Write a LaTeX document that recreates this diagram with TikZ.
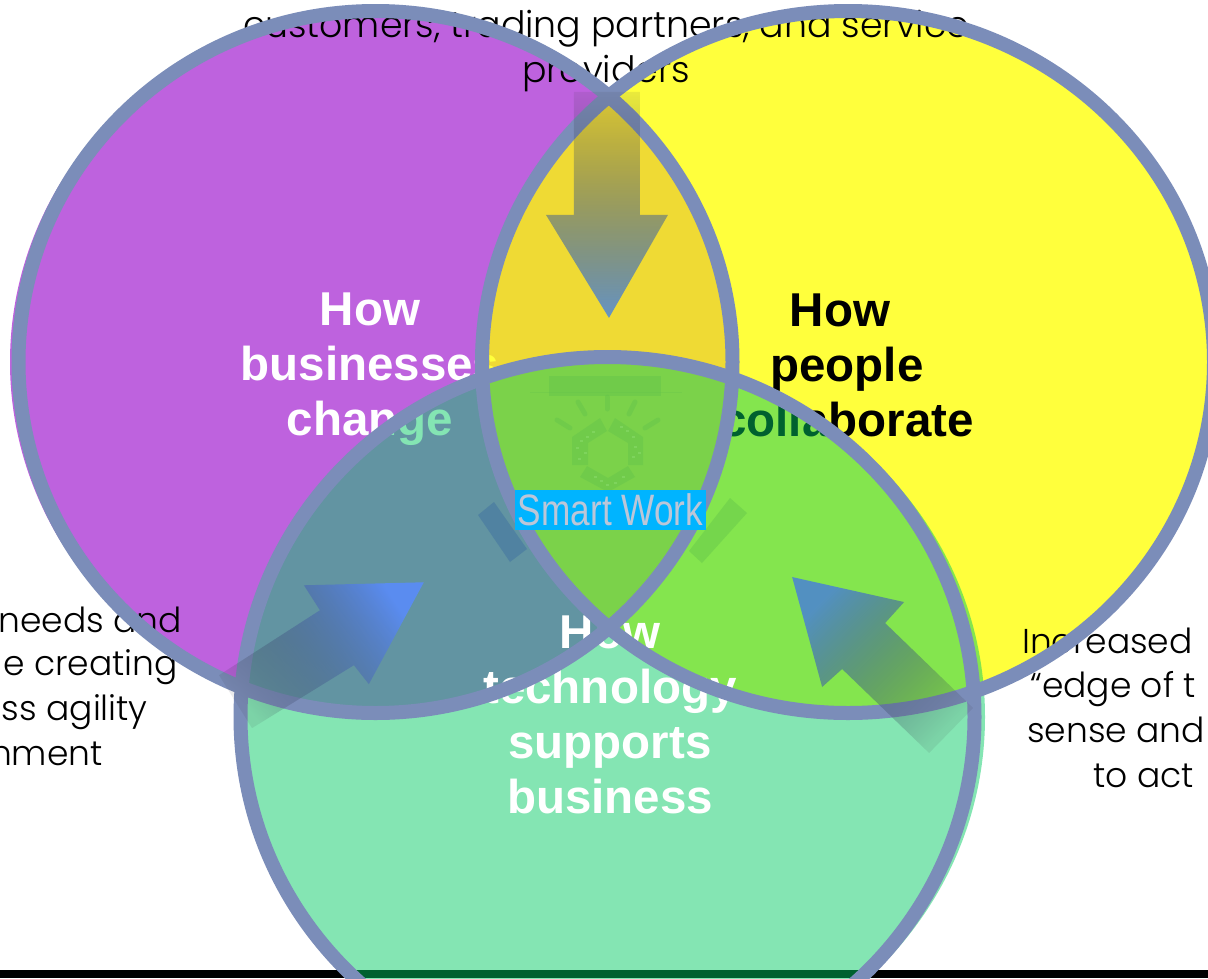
\documentclass[tikz,border=0pt]{standalone}
\usepackage{fontspec}
\usetikzlibrary{fadings}
\setmainfont{Liberation Sans}
\newfontfamily\gothic{Poppins Light}
\definecolor{ringc}{RGB}{123,141,185}
\definecolor{purplec}{RGB}{190,98,222}
\definecolor{yellowc}{RGB}{255,255,0}
\definecolor{greenc}{RGB}{0,203,99}
\definecolor{boxc}{RGB}{0,180,255}
\definecolor{smartc}{RGB}{188,198,216}
\definecolor{logoc}{RGB}{100,196,74}
\definecolor{logolite}{RGB}{140,222,110}
\definecolor{tailc}{RGB}{55,55,65}
\definecolor{tipa}{RGB}{95,145,205}
\definecolor{tipb}{RGB}{90,140,245}
\definecolor{tipc}{RGB}{80,140,200}
\definecolor{barc}{RGB}{60,110,160}
\tikzfading[name=arrowfade, left color=transparent!90, right color=transparent!5]
\tikzset{
  ring/.style={draw=ringc,line width=14pt},
  boldlabel/.style={font=\fontsize{47.5}{55}\selectfont\bfseries,align=center,inner sep=0pt},
  thinlabel/.style={font=\gothic\fontsize{34.5}{45}\selectfont,inner sep=0pt,text=black},
  toplabel/.style={font=\gothic\fontsize{36.3}{45}\selectfont,inner sep=0pt,text=black},
  logomark/.style={fill=logoc,opacity=.45},
  logoray/.style={draw=logoc,line width=5pt,line cap=round,opacity=.45},
  logodot/.style={fill=logolite,opacity=.5},
  arrowshade/.style={left color=tailc,right color=#1,path fading=arrowfade}
}
\begin{document}
\begin{tikzpicture}[x=1pt,y=-1pt]
\useasboundingbox (0,0) rectangle (1208,978);
\clip (0,0) rectangle (1208,978);
\fill[white] (0,0) rectangle (1208,978);
\fill[black] (0,970) rectangle (1208,978);
% left circle
\fill[purplec] (374,362) ellipse [x radius=364,y radius=352];
\node[boldlabel,text=white] (hb) at (370,369) {How\\businesses\\change};
% right circle
\fill[yellowc,fill opacity=.765] (848,362) ellipse [x radius=366,y radius=351];
\node[boldlabel,text=black,anchor=base] (hp1) at (840,326) {How};
\node[boldlabel,text=black,anchor=base] (hp2) at (847,381) {people};
\node[boldlabel,text=black,anchor=base] (hp3) at (847,436) {collaborate};
% outer texts
\node[toplabel,align=center] (top) at (606,51) {customers, trading partners, and service\\providers};
\node[thinlabel,anchor=base east] (l1) at (182,632) {needs and};
\node[thinlabel,anchor=base east] (l2) at (178,675) {e creating};
\node[thinlabel,anchor=base east] (l3) at (148,720) {ss agility};
\node[thinlabel,anchor=base east] (l4) at (103,765) {nment};
\node[thinlabel,anchor=base west] (r1) at (1022,653) {Increased};
\node[thinlabel,anchor=base west] (r2) at (1030,697) {“edge of t};
\node[thinlabel,anchor=base west] (r3) at (1027,742) {sense and};
\node[thinlabel,anchor=base west] (r4) at (1093,787) {to act};
% bottom circle
\fill[greenc,fill opacity=.482] (612,717) ellipse [x radius=373,y radius=360];
% small bars
\fill[barc,opacity=.45] (478,515) -- (494,502) -- (527,549) -- (510,562) -- cycle;
\fill[logoc,opacity=.45] (730,498) -- (747,513) -- (702,563) -- (689,551) -- cycle;
% logo
\fill[logomark] (549,376) rectangle (661,396);
\draw[logoc,line width=.6pt,opacity=.3] (530,392) -- (682,392);
\draw[logoray] (557,420) -- (570,428);
\draw[logoray] (578,402) -- (585,414);
\draw[logoray] (607,397) -- (607,409);
\draw[logoray] (635,402) -- (629,414);
\draw[logoray] (658,420) -- (645,428);
\fill[logomark] (600,418) -- (607,431) -- (588,443) -- (588,465) -- (572,465) -- (572,437) -- cycle;
\fill[logomark] (615,418) -- (643,437) -- (643,465) -- (628,465) -- (628,443) -- (608,431) -- cycle;
\fill[logomark] (587,466) -- (608,478) -- (628,466) -- (635,477) -- (608,492) -- (580,477) -- cycle;
\foreach \px/\py in {580/440,586/436,592/431,576/447,578/458,584/452,620/426,626/430,632/436,634/446,638/452,632/456,594/476,600/480,606/484,614/482,622/476}
  \fill[logodot] (\px,\py) rectangle +(3,2);
\node[boldlabel,text=white] (ht) at (610,715) {How\\technology\\supports\\business};
% rings
\draw[ring] (375.5,362) ellipse [x radius=357,y radius=351];
\draw[ring] (848,362) ellipse [x radius=366,y radius=351];
\draw[ring] (607.5,717) ellipse [x radius=367,y radius=360];
% arrows
\shade[arrowshade=tipa,shading angle=0,fading angle=-90]
  (574,92) -- (640,92) -- (640,215) -- (668,215) -- (609,318) -- (546,215) -- (574,215) -- cycle;
\shade[arrowshade=tipb,shading angle=122,fading angle=32]
  (219,675) -- (320,610) -- (304,585) -- (424,582) -- (369,684) -- (354,665) -- (252,728) -- cycle;
\shade[arrowshade=tipc,shading angle=226,fading angle=136]
  (973,708) -- (885,623) -- (904,602) -- (792,577) -- (822,687) -- (842,669) -- (929,753) -- cycle;
% centre label
\node[fill=boxc,text=smartc,minimum width=191pt,minimum height=40pt,inner sep=0pt] (sw) at (610.5,510)
  {\fontsize{44}{44}\selectfont\scalebox{.8}[1]{Smart Work}};
\end{tikzpicture}
\end{document}
